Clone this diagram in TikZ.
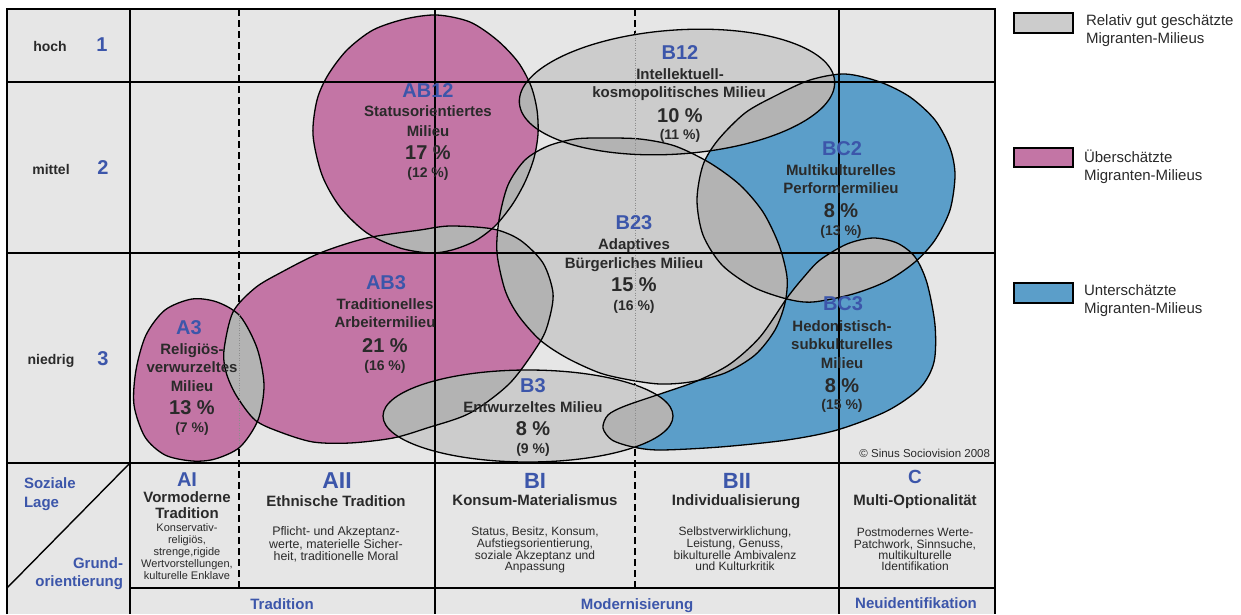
\documentclass[tikz,border=0pt]{standalone}
\usepackage{fontspec}
\setmainfont{Liberation Sans}
\definecolor{cBg}{HTML}{E6E6E6}
\definecolor{cPink}{HTML}{C375A5}
\definecolor{cBlue}{HTML}{5B9EC9}
\definecolor{cGry}{HTML}{CCCCCC}
\definecolor{cOvl}{HTML}{B3B3B3}
\definecolor{cCode}{HTML}{3C56AA}
\definecolor{cTxt}{HTML}{2A2A2A}
\newcommand{\ovlap}[2]{\begin{scope}\clip[#1];\fill[cOvl,#2];\end{scope}}
\tikzset{
 shpAthree/.style={insert path={plot[smooth cycle] coordinates {(192,299) (217,302) (240,316) (257,348) (264,385) (258,420) (240,447) (215,459) (192,461) (165,455) (145,437) (134,405) (136,370) (146,335) (165,310)}}},
 shpABthree/.style={insert path={plot[smooth cycle] coordinates {(224,350) (233,312) (255,288) (280,273) (320,253) (367,238) (420,230) (450,226) (493,229) (520,240) (543,263) (553,293) (549,320) (540,342) (510,383) (470,413) (427,428) (393,438) (350,443) (313,442) (280,432) (255,420) (236,395) (226,372)}}},
 shpABtwelve/.style={insert path={plot[smooth cycle] coordinates {(437,15) (470,22) (497,40) (518,62) (531,86) (537,110) (538,134) (534,158) (525,182) (512,205) (495,226) (475,241) (452,250) (430,253) (400,248) (367,233) (340,207) (322,175) (313,135) (317,100) (328,75) (347,50) (373,30) (405,19)}}},
 shpBtwelve/.style={insert path={(677,92) ellipse [x radius=158, y radius=62, rotate=4]}},
 shpBtwentythree/.style={insert path={plot[smooth cycle] coordinates {(603,138) (640,139) (675,146) (710,163) (740,185) (763,212) (779,245) (787,277) (785,303) (775,330) (755,355) (725,373) (690,382) (660,384) (630,380) (600,373) (567,358) (540,340) (518,315) (505,290) (497,253) (499,220) (508,185) (525,160) (548,146) (575,139)}}},
 shpBCtwo/.style={insert path={plot[smooth cycle] coordinates {(845,74) (880,82) (910,97) (935,120) (950,148) (955,175) (950,210) (935,240) (915,262) (887,281) (853,294) (813,302) (787,299) (753,287) (722,265) (703,235) (697,200) (703,165) (718,140) (745,113) (775,96) (810,80)}}},
 shpBCthree/.style={insert path={plot[smooth cycle] coordinates {(787,298) (803,278) (820,260) (847,244) (873,238) (897,243) (915,257) (927,283) (935,325) (934,362) (920,388) (887,411) (837,430) (787,440) (720,447) (660,450) (633,447) (612,440) (603,428) (608,415) (625,406) (663,393) (697,381) (730,364) (760,337)}}},
 shpBthree/.style={insert path={(528,416) ellipse [x radius=145, y radius=46]}},
 blobline/.style={line width=1.3pt, draw=black},
 gridline/.style={line width=1.4pt, draw=black},
 dashline/.style={line width=1.3pt, draw=black, dash pattern=on 7pt off 4pt},
 dotline/.style={line width=0.8pt, draw=black!45, dash pattern=on 1pt off 1.5pt},
 every node/.style={inner sep=0pt, outer sep=0pt, anchor=base},
 side/.style={font=\fontsize{14}{14}\selectfont\bfseries, text=cTxt},
 sidenum/.style={font=\fontsize{20}{20}\selectfont\bfseries, text=cCode},
 code/.style={font=\fontsize{20}{20}\selectfont\bfseries, text=cCode},
 mname/.style={font=\fontsize{15}{15}\selectfont\bfseries, text=cTxt},
 pct/.style={font=\fontsize{20}{20}\selectfont\bfseries, text=cTxt},
 ppct/.style={font=\fontsize{14}{14}\selectfont\bfseries, text=cTxt},
 legtext/.style={font=\fontsize{15}{15}\selectfont, text=cTxt, anchor=base west},
 legbox/.style={line width=1.3pt, draw=black},
 axlabel/.style={font=\fontsize{15}{15}\selectfont\bfseries, text=cCode},
 colsub/.style={font=\fontsize{15}{15}\selectfont\bfseries, text=cTxt},
 small/.style={font=\fontsize{12}{12}\selectfont, text=cTxt},
 smaller/.style={font=\fontsize{11}{11}\selectfont, text=cTxt},
}
\begin{document}
\begin{tikzpicture}[x=1pt,y=-1pt]
\useasboundingbox (0,0) rectangle (1241,614);
\fill[white] (0,0) rectangle (1241,614);
\fill[cBg] (7,9) rectangle (995,614);
% dashed column separators (below the milieus)
\draw[dashline] (239,9) -- (239,588);
\draw[dashline] (635,9) -- (635,588);
% milieu fills
\fill[cPink, shpAthree];
\fill[cPink, shpABthree];
\fill[cPink, shpABtwelve];
\fill[cGry, shpBtwelve];
\fill[cGry, shpBtwentythree];
\fill[cBlue, shpBCtwo];
\fill[cBlue, shpBCthree];
\fill[cGry, shpBthree];
% overlaps
\ovlap{shpAthree}{shpABthree}
\ovlap{shpABtwelve}{shpABthree}
\ovlap{shpABtwelve}{shpBtwelve}
\ovlap{shpABtwelve}{shpBtwentythree}
\ovlap{shpABthree}{shpBtwentythree}
\ovlap{shpABthree}{shpBthree}
\ovlap{shpBtwelve}{shpBtwentythree}
\ovlap{shpBtwelve}{shpBCtwo}
\ovlap{shpBtwentythree}{shpBCtwo}
\ovlap{shpBtwentythree}{shpBCthree}
\ovlap{shpBCtwo}{shpBCthree}
\ovlap{shpBtwentythree}{shpBthree}
\ovlap{shpBthree}{shpBCthree}
% outlines
\draw[blobline, shpAthree];
\draw[blobline, shpABthree];
\draw[blobline, shpABtwelve];
\draw[blobline, shpBtwelve];
\draw[blobline, shpBtwentythree];
\draw[blobline, shpBCtwo];
\draw[blobline, shpBCthree];
\draw[blobline, shpBthree];
% faint continuation of the dashed separators over the milieus
\draw[dotline] (635,30) -- (635,447);
\draw[dotline] (239,305) -- (239,448);
% grid
\draw[gridline] (7,614) -- (7,9) -- (995,9) -- (995,614);
\draw[gridline] (7,82) -- (995,82);
\draw[gridline] (7,253) -- (995,253);
\draw[gridline] (7,463) -- (995,463);
\draw[gridline] (130,588) -- (995,588);
\draw[gridline] (130,9) -- (130,614);
\draw[gridline] (435,9) -- (435,614);
\draw[gridline] (839,9) -- (839,614);
\draw[gridline] (130,463) -- (7,588);
% row labels
\node[side] (nHoch) at (50,51) {hoch};
\node[sidenum] (nOne) at (102,51.5) {1};
\node[side] (nMittel) at (51,174) {mittel};
\node[sidenum] (nTwo) at (103,174.5) {2};
\node[side] (nNiedrig) at (51,364) {niedrig};
\node[sidenum] (nThree) at (103,365.5) {3};
% AB12
\node[code] (cABtwelve) at (428,97) {AB12};
\node[mname] (mABtwelveA) at (428,116.4) {Statusorientiertes};
\node[mname] (mABtwelveB) at (428,136.4) {Milieu};
\node[pct] (pABtwelve) at (428,159) {17 \%};
\node[ppct] (qABtwelve) at (428,177.6) {(12 \%)};
% B12
\node[code] (cBtwelve) at (680,59) {B12};
\node[mname] (mBtwelveA) at (680,79.4) {Intellektuell-};
\node[mname] (mBtwelveB) at (679,97.4) {kosmopolitisches Milieu};
\node[pct] (pBtwelve) at (680,122) {10 \%};
\node[ppct] (qBtwelve) at (680,139.6) {(11 \%)};
% B23
\node[code] (cBtwentythree) at (634,229) {B23};
\node[mname] (mBtwentythreeA) at (634,249.4) {Adaptives};
\node[mname] (mBtwentythreeB) at (634,268.4) {Bürgerliches Milieu};
\node[pct] (pBtwentythree) at (634,291.5) {15 \%};
\node[ppct] (qBtwentythree) at (634,310) {(16 \%)};
% BC2
\node[code] (cBCtwo) at (842,155) {BC2};
\node[mname] (mBCtwoA) at (841,175.4) {Multikulturelles};
\node[mname] (mBCtwoB) at (841,193.4) {Performermilieu};
\node[pct] (pBCtwo) at (841,217) {8 \%};
\node[ppct] (qBCtwo) at (841,235.6) {(13 \%)};
% BC3
\node[code] (cBCthree) at (843,310) {BC3};
\node[mname] (mBCthreeA) at (842,331.4) {Hedonistisch-};
\node[mname] (mBCthreeB) at (842,349.4) {subkulturelles};
\node[mname] (mBCthreeC) at (842,368.4) {Milieu};
\node[pct] (pBCthree) at (842,392) {8 \%};
\node[ppct] (qBCthree) at (842,409.6) {(15 \%)};
% AB3
\node[code] (cABthree) at (386,289) {AB3};
\node[mname] (mABthreeA) at (385,309.4) {Traditionelles};
\node[mname] (mABthreeB) at (385,327.4) {Arbeitermilieu};
\node[pct] (pABthree) at (385,352) {21 \%};
\node[ppct] (qABthree) at (385,370.6) {(16 \%)};
% A3
\node[code] (cAthree) at (189,334) {A3};
\node[mname] (mAthreeA) at (192,354.4) {Religiös-};
\node[mname] (mAthreeB) at (192,372.4) {verwurzeltes};
\node[mname] (mAthreeC) at (192,391.4) {Milieu};
\node[pct] (pAthree) at (192,414) {13 \%};
\node[ppct] (qAthree) at (192,432.6) {(7 \%)};
% B3
\node[code] (cBthree) at (533,392) {B3};
\node[mname] (mBthreeA) at (533,412.4) {Entwurzeltes Milieu};
\node[pct] (pBthree) at (533,435) {8 \%};
\node[ppct] (qBthree) at (533,453.6) {(9 \%)};
% copyright
\node[font=\fontsize{11.5}{11.5}\selectfont, text=cTxt, anchor=base east] (nCopy) at (990,457) {© Sinus Sociovision 2008};
% legend
\draw[legbox, fill=cGry] (1014,13) rectangle (1073,33);
\draw[legbox, fill=cPink] (1014,148) rectangle (1073,167);
\draw[legbox, fill=cBlue] (1014,283) rectangle (1073,303);
\node[legtext] (lGa) at (1086,25) {Relativ gut geschätzte};
\node[legtext] (lGb) at (1086,43.5) {Migranten-Milieus};
\node[legtext] (lPa) at (1084,162) {Überschätzte};
\node[legtext] (lPb) at (1084,180) {Migranten-Milieus};
\node[legtext] (lBa) at (1084,295) {Unterschätzte};
\node[legtext] (lBb) at (1084,313) {Migranten-Milieus};
% axis corner
\node[axlabel, anchor=base west] (aSoz) at (24,488.4) {Soziale};
\node[axlabel, anchor=base west] (aLage) at (24,507.3) {Lage};
\node[axlabel, anchor=base east] (aGrund) at (123,568.3) {Grund-};
\node[axlabel, anchor=base east] (aOrient) at (123,586) {orientierung};
% column heads
\node[font=\fontsize{20}{20}\selectfont\bfseries, text=cCode] (hAI) at (187,486) {AI};
\node[font=\fontsize{23}{23}\selectfont\bfseries, text=cCode] (hAII) at (337,488.3) {AII};
\node[font=\fontsize{22}{22}\selectfont\bfseries, text=cCode] (hBI) at (535,488.3) {BI};
\node[font=\fontsize{22}{22}\selectfont\bfseries, text=cCode] (hBII) at (737,488.3) {BII};
\node[font=\fontsize{19}{19}\selectfont\bfseries, text=cCode] (hC) at (915,483.5) {C};
\node[colsub] (sAIa) at (187,502.3) {Vormoderne};
\node[colsub] (sAIb) at (187,518.3) {Tradition};
\node[colsub] (sAII) at (336,506) {Ethnische Tradition};
\node[colsub] (sBI) at (535,505.7) {Konsum-Materialismus};
\node[colsub] (sBII) at (736,505.7) {Individualisierung};
\node[colsub] (sC) at (915,505) {Multi-Optionalität};
% descriptions
\node[smaller] (dAIa) at (187,531) {Konservativ-};
\node[smaller] (dAIb) at (187,543.3) {religiös,};
\node[smaller] (dAIc) at (187,555.5) {strenge,rigide};
\node[smaller] (dAId) at (187,567.5) {Wertvorstellungen,};
\node[smaller] (dAIe) at (187,579.5) {kulturelle Enklave};
\node[small, font=\fontsize{12.4}{12.4}\selectfont] (dAIIa) at (336,535.7) {Pflicht- und Akzeptanz-};
\node[small, font=\fontsize{12.4}{12.4}\selectfont] (dAIIb) at (336,548) {werte, materielle Sicher-};
\node[small, font=\fontsize{12.4}{12.4}\selectfont] (dAIIc) at (336,560) {heit, traditionelle Moral};
\node[small] (dBIa) at (535,535.7) {Status, Besitz, Konsum,};
\node[small] (dBIb) at (535,547.3) {Aufstiegsorientierung,};
\node[small] (dBIc) at (535,559) {soziale Akzeptanz und};
\node[small] (dBId) at (535,570.7) {Anpassung};
\node[small] (dBIIa) at (735,535.7) {Selbstverwirklichung,};
\node[small] (dBIIb) at (735,547.3) {Leistung, Genuss,};
\node[small] (dBIIc) at (735,559) {bikulturelle Ambivalenz};
\node[small] (dBIId) at (735,570.7) {und Kulturkritik};
\node[small] (dCa) at (915,536.7) {Postmodernes Werte-};
\node[small] (dCb) at (915,548.3) {Patchwork, Sinnsuche,};
\node[small] (dCc) at (915,559.3) {multikulturelle};
\node[small] (dCd) at (915,570.7) {Identifikation};
% bottom row
\node[axlabel] (bTrad) at (282,609) {Tradition};
\node[axlabel] (bMod) at (637,609) {Modernisierung};
\node[axlabel] (bNeu) at (916,608) {Neuidentifikation};
\end{tikzpicture}
\end{document}
